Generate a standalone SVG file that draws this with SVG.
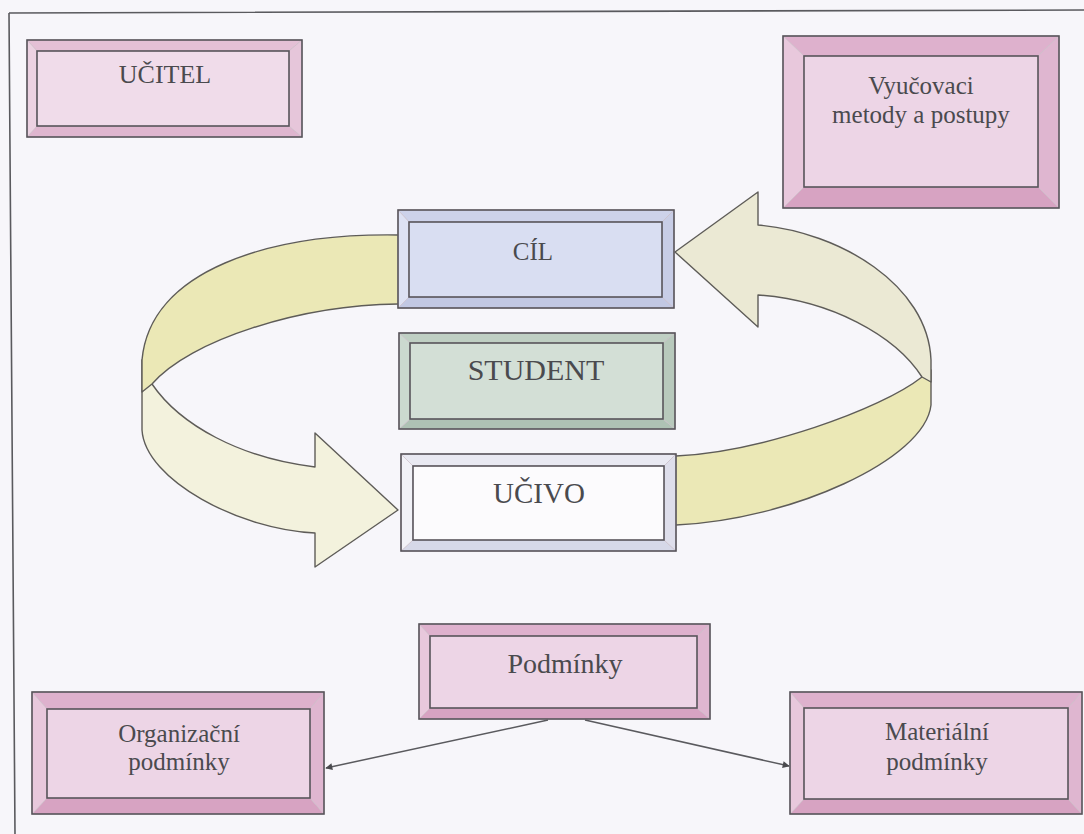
<svg xmlns="http://www.w3.org/2000/svg" width="1084" height="834" viewBox="0 0 1084 834">
<defs>
<style>
.frame{fill:none;stroke:#5a5a5e;stroke-width:1.6}
.edge{fill:none;stroke:#58545a;stroke-width:1.6}
.bev{stroke:#c9bcc6;stroke-width:0.6}
.rib{stroke:#5e5c58;stroke-width:1.4;stroke-linejoin:round}
.dark{fill:#ebe8b6}
.light{fill:#f3f2dd}
.lightR{fill:#ebe9d4}
.conn{fill:none;stroke:#5a5a5e;stroke-width:1.5}
.t{font-family:"Liberation Serif","Times New Roman",serif;fill:#4a4a4e;text-anchor:middle}
.pk-f{fill:#edd5e6}.pk-t{fill:#deb1cd}.pk-l{fill:#e8c8dc}.pk-r{fill:#dfb6d0}.pk-b{fill:#d7a3c2}
.pl-f{fill:#f0dcea}.pl-t{fill:#e4c0d6}.pl-l{fill:#ecd2e2}.pl-r{fill:#e6c6da}.pl-b{fill:#dfb6cf}
.bl-f{fill:#d9def2}.bl-t{fill:#cdd2ea}.bl-l{fill:#dde1f3}.bl-r{fill:#c8cde6}.bl-b{fill:#c2c8e3}
.gr-f{fill:#d3dfd6}.gr-t{fill:#bfcfc3}.gr-l{fill:#cbd9cf}.gr-r{fill:#b8c9bc}.gr-b{fill:#aec2b4}
.wh-f{fill:#fcfbfd}.wh-t{fill:#e9e9f2}.wh-l{fill:#f1f1f7}.wh-r{fill:#dedeeb}.wh-b{fill:#d6d8e8}
</style>
<marker id="ah" viewBox="0 0 10 10" refX="9" refY="5" markerWidth="8" markerHeight="7" markerUnits="userSpaceOnUse" orient="auto">
<path d="M0,0 L10,5 L0,10 Z" fill="#4a4a4e"/>
</marker>
</defs>
<rect x="0" y="0" width="1084" height="834" fill="#f7f6fa"/>
<path class="frame" d="M9,13 L1084,10 M9,13 L15,834"/>

<g id="connectors">
<!-- left ribbon: light lower part with arrowhead -->
<path class="rib light" d="M142,360 L142,430 C145,480 240,530 315,533 L315,567 L398,510 L315,433 L315,467 C240,458 180,425 152,384 Z"/>
<!-- left ribbon: dark upper band -->
<path class="rib dark" d="M398,235 C270,233 150,270 142,360 L142,392 L152,384 C190,340 300,305 398,304"/>
<!-- right ribbon: dark lower band -->
<path class="rib dark" d="M676,456 C760,452 880,410 922,377 L931,370 L931,405 C925,460 790,520 676,525"/>
<!-- right ribbon: light upper part with arrowhead -->
<path class="rib lightR" d="M675,252 L758,192 L758,225 C840,232 928,285 931,360 L931,382 L922,377 C895,335 830,300 758,295 L758,327 Z"/>
<line class="conn" x1="548" y1="720" x2="326" y2="768" marker-end="url(#ah)"/>
<line class="conn" x1="585" y1="720" x2="789" y2="766" marker-end="url(#ah)"/>
</g>

<g id="ucitel">
<polygon class="pl-t bev" points="27,40 302,40 289,51 37,51"/>
<polygon class="pl-b bev" points="27,137 302,137 289,126 37,126"/>
<polygon class="pl-l bev" points="27,40 37,51 37,126 27,137"/>
<polygon class="pl-r bev" points="302,40 289,51 289,126 302,137"/>
<rect class="pl-f" x="37" y="51" width="252" height="75"/>
<rect class="edge" x="27" y="40" width="275" height="97"/>
<rect class="edge" x="37" y="51" width="252" height="75"/>
<text class="t" x="165" y="83" font-size="26">UČITEL</text>
</g>

<g id="metody">
<polygon class="pk-t bev" points="783,36 1059,36 1038,56 804,56"/>
<polygon class="pk-b bev" points="783,208 1059,208 1038,187 804,187"/>
<polygon class="pk-l bev" points="783,36 804,56 804,187 783,208"/>
<polygon class="pk-r bev" points="1059,36 1038,56 1038,187 1059,208"/>
<rect class="pk-f" x="804" y="56" width="234" height="131"/>
<rect class="edge" x="783" y="36" width="276" height="172"/>
<rect class="edge" x="804" y="56" width="234" height="131"/>
<text class="t" x="921" y="94" font-size="25">Vyučovaci</text>
<text class="t" x="921" y="123" font-size="25">metody a postupy</text>
</g>

<g id="cil">
<polygon class="bl-t bev" points="398,210 674,210 662,222 409,222"/>
<polygon class="bl-b bev" points="398,308 674,308 662,297 409,297"/>
<polygon class="bl-l bev" points="398,210 409,222 409,297 398,308"/>
<polygon class="bl-r bev" points="674,210 662,222 662,297 674,308"/>
<rect class="bl-f" x="409" y="222" width="253" height="75"/>
<rect class="edge" x="398" y="210" width="276" height="98"/>
<rect class="edge" x="409" y="222" width="253" height="75"/>
<text class="t" x="533" y="260" font-size="25">CÍL</text>
</g>

<g id="student">
<polygon class="gr-t bev" points="399,333 675,333 663,343 410,343"/>
<polygon class="gr-b bev" points="399,429 675,429 663,419 410,419"/>
<polygon class="gr-l bev" points="399,333 410,343 410,419 399,429"/>
<polygon class="gr-r bev" points="675,333 663,343 663,419 675,429"/>
<rect class="gr-f" x="410" y="343" width="253" height="76"/>
<rect class="edge" x="399" y="333" width="276" height="96"/>
<rect class="edge" x="410" y="343" width="253" height="76"/>
<text class="t" x="536" y="380" font-size="30">STUDENT</text>
</g>

<g id="ucivo">
<polygon class="wh-t bev" points="401,454 676,454 664,466 413,466"/>
<polygon class="wh-b bev" points="401,551 676,551 664,540 413,540"/>
<polygon class="wh-l bev" points="401,454 413,466 413,540 401,551"/>
<polygon class="wh-r bev" points="676,454 664,466 664,540 676,551"/>
<rect class="wh-f" x="413" y="466" width="251" height="74"/>
<rect class="edge" x="401" y="454" width="275" height="97"/>
<rect class="edge" x="413" y="466" width="251" height="74"/>
<text class="t" x="539" y="503" font-size="29">UČIVO</text>
</g>

<g id="podminky">
<polygon class="pk-t bev" points="419,624 710,624 697,636 430,636"/>
<polygon class="pk-b bev" points="419,719 710,719 697,708 430,708"/>
<polygon class="pk-l bev" points="419,624 430,636 430,708 419,719"/>
<polygon class="pk-r bev" points="710,624 697,636 697,708 710,719"/>
<rect class="pk-f" x="430" y="636" width="267" height="72"/>
<rect class="edge" x="419" y="624" width="291" height="95"/>
<rect class="edge" x="430" y="636" width="267" height="72"/>
<text class="t" x="565" y="673" font-size="28">Podmínky</text>
</g>

<g id="organizacni">
<polygon class="pk-t bev" points="32,692 324,692 310,709 47,709"/>
<polygon class="pk-b bev" points="32,814 324,814 310,798 47,798"/>
<polygon class="pk-l bev" points="32,692 47,709 47,798 32,814"/>
<polygon class="pk-r bev" points="324,692 310,709 310,798 324,814"/>
<rect class="pk-f" x="47" y="709" width="263" height="89"/>
<rect class="edge" x="32" y="692" width="292" height="122"/>
<rect class="edge" x="47" y="709" width="263" height="89"/>
<text class="t" x="179" y="742" font-size="25">Organizační</text>
<text class="t" x="179" y="770" font-size="25">podmínky</text>
</g>

<g id="materialni">
<polygon class="pk-t bev" points="790,692 1082,692 1068,708 804,708"/>
<polygon class="pk-b bev" points="790,814 1082,814 1068,799 804,799"/>
<polygon class="pk-l bev" points="790,692 804,708 804,799 790,814"/>
<polygon class="pk-r bev" points="1082,692 1068,708 1068,799 1082,814"/>
<rect class="pk-f" x="804" y="708" width="264" height="91"/>
<rect class="edge" x="790" y="692" width="292" height="122"/>
<rect class="edge" x="804" y="708" width="264" height="91"/>
<text class="t" x="937" y="740" font-size="25">Materiální</text>
<text class="t" x="937" y="770" font-size="25">podmínky</text>
</g>
</svg>
